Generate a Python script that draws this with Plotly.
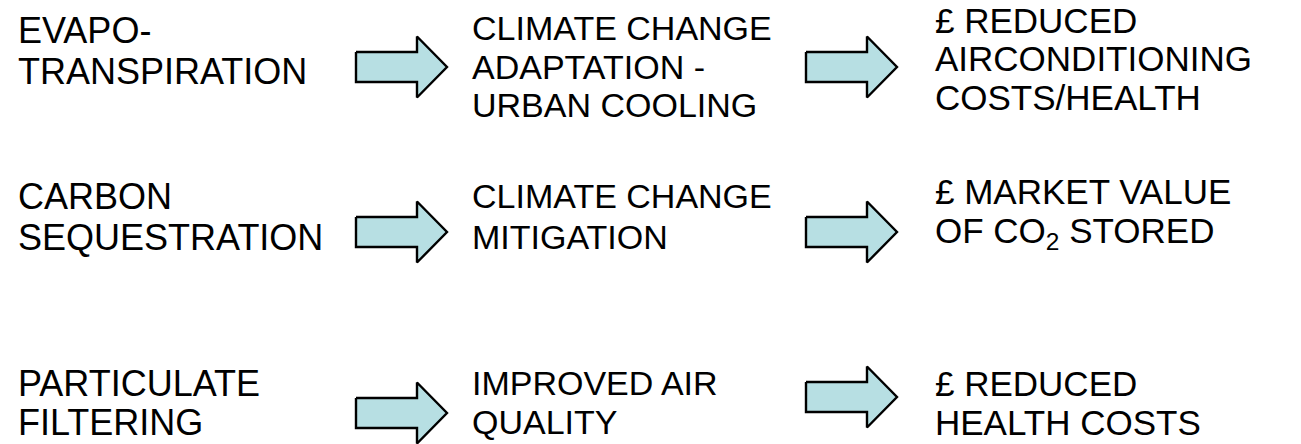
import plotly.graph_objects as go

# ---- content ----
col1_lines = [["EVAPO-", "TRANSPIRATION"],
              ["CARBON", "SEQUESTRATION"],
              ["PARTICULATE", "FILTERING"]]
col2_lines = [["CLIMATE CHANGE", "ADAPTATION -", "URBAN COOLING"],
              ["CLIMATE CHANGE", "MITIGATION"],
              ["IMPROVED AIR", "QUALITY"]]
col3_lines = [["£ REDUCED", "AIRCONDITIONING", "COSTS/HEALTH"],
              ["£ MARKET VALUE", "OF CO<sub>2</sub> STORED"],
              ["£ REDUCED", "HEALTH COSTS"]]

# ---- layout (pixel space) ----
W, H = 1301, 444
col_x = [16, 470, 933]
col_font = [36, 34, 35]
line_y = [
    [[30, 71], [28, 67, 105], [20, 58, 97]],
    [[196, 237], [196, 237], [191, 233]],
    [[383, 422], [383, 422], [383, 422]],
]
arrow_tail_x = [356, 806]
arrow_cy = [[67, 67], [232, 232], [413, 397]]
shaft_len, head_len, shaft_h, head_h = 61, 30, 30, 61

fig = go.Figure()

for r in range(3):
    for a in range(2):
        x0 = arrow_tail_x[a]
        cy = arrow_cy[r][a]
        xb = x0 + shaft_len
        xt = xb + head_len
        xs = [x0, xb, xb, xt, xb, xb, x0, x0]
        ys = [cy - shaft_h / 2, cy - shaft_h / 2, cy - head_h / 2, cy,
              cy + head_h / 2, cy + shaft_h / 2, cy + shaft_h / 2, cy - shaft_h / 2]
        fig.add_trace(go.Scatter(x=xs, y=ys, mode="lines", fill="toself",
                                 fillcolor="#B7DFE3",
                                 line=dict(color="black", width=2.4),
                                 hoverinfo="skip", showlegend=False))

for c, lines in enumerate([col1_lines, col2_lines, col3_lines]):
    for r in range(3):
        for i, t in enumerate(lines[r]):
            fig.add_annotation(x=col_x[c], y=line_y[r][c][i], text=t,
                               xref="x", yref="y", showarrow=False,
                               xanchor="left", yanchor="middle",
                               font=dict(family="Liberation Sans, Arial", size=col_font[c], color="black"))

fig.update_xaxes(range=[0, W], visible=False)
fig.update_yaxes(range=[H, 0], visible=False)
fig.update_layout(width=W, height=H, margin=dict(l=0, r=0, t=0, b=0),
                  plot_bgcolor="white", paper_bgcolor="white")
fig.write_html("out.html", config={"displayModeBar": False},
               post_script="document.body.style.margin='0';")
